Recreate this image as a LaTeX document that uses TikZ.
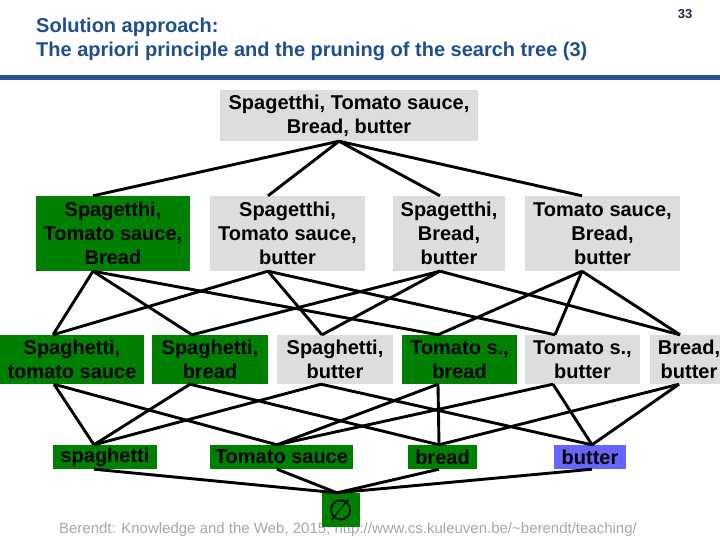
\documentclass[tikz,border=0pt]{standalone}
\usepackage{fontspec}
\setmainfont{Liberation Sans}
\newfontfamily\symfont{DejaVu Sans}
\usepackage{xcolor}
\usepackage{tikz}

\definecolor{freqgreen}{RGB}{0,128,0}
\definecolor{prunedgray}{RGB}{221,221,221}
\definecolor{infreqblue}{RGB}{102,102,255}
\definecolor{titleblue}{RGB}{31,78,140}
\definecolor{ruleblue}{RGB}{36,85,145}
\definecolor{pagenavy}{RGB}{30,45,70}
\definecolor{footgray}{RGB}{166,166,166}

\begin{document}
\begin{tikzpicture}[
  x=1pt, y=-1pt,
  itemset/.style={rectangle, inner sep=0pt, align=center, font=\fontsize{20}{24}\selectfont\bfseries},
  freq/.style={itemset, fill=freqgreen},
  pruned/.style={itemset, fill=prunedgray},
  infreq/.style={itemset, fill=infreqblue},
  lvlthree/.style={minimum height=75pt},
  lvltwo/.style={minimum height=49pt},
  lvlone/.style={minimum height=24pt},
  edge/.style={line width=2.9pt}
]
\useasboundingbox (0,0) rectangle (720,540);

% title and page number
\node[anchor=base west, align=left, inner sep=0pt, text=titleblue, font=\fontsize{20}{24}\selectfont\bfseries] (title) at (36,57) {Solution approach:\\The apriori principle and the pruning of the search tree (3)};
\node[text=pagenavy, font=\fontsize{13}{15}\selectfont\bfseries] (pagenum) at (685,14) {33};
\draw[ruleblue, line width=4.5pt] (0,77.5) -- (720,77.5);

% search tree
\node[pruned, minimum width=258pt, minimum height=51pt] (stbrbu) at (349,115.5) {Spagetthi, Tomato sauce,\\Bread, butter};

\node[freq, lvlthree, minimum width=154pt] (stbr) at (113,233.5) {Spagetthi,\\Tomato sauce,\\Bread};
\node[pruned, lvlthree, minimum width=155pt] (stbu) at (287.5,233.5) {Spagetthi,\\Tomato sauce,\\butter};
\node[pruned, lvlthree, minimum width=112pt] (sbrbu) at (449,233.5) {Spagetthi,\\Bread,\\butter};
\node[pruned, lvlthree, minimum width=155pt] (tbrbu) at (602.5,233.5) {Tomato sauce,\\Bread,\\butter};

\node[freq, lvltwo, minimum width=144pt] (st) at (72,359.5) {Spaghetti,\\tomato sauce};
\node[freq, lvltwo, minimum width=116pt] (sbr) at (210,359.5) {Spaghetti,\\bread};
\node[pruned, lvltwo, minimum width=116pt] (sbu) at (335,359.5) {Spaghetti,\\butter};
\node[freq, lvltwo, minimum width=115pt] (tbr) at (459.5,359.5) {Tomato s.,\\bread};
\node[pruned, lvltwo, minimum width=115pt] (tbu) at (582.5,359.5) {Tomato s.,\\butter};
\node[pruned, lvltwo, minimum width=78pt] (brbu) at (689,359.5) {Bread,\\butter};

\node[freq, lvlone, minimum width=104pt] (s) at (105,457) {spaghetti};
\node[freq, lvlone, minimum width=143pt] (t) at (281.5,457) {Tomato sauce};
\node[freq, lvlone, minimum width=69pt] (br) at (442.5,457) {bread};
\node[infreq, lvlone, minimum width=72pt] (bu) at (590,457) {butter};

\node[anchor=base, text=footgray, font=\fontsize{15}{18}\selectfont] (credit) at (348,533) {Berendt: Knowledge and the Web, 2015, http://www.cs.kuleuven.be/\textasciitilde berendt/teaching/};
\node[freq, minimum width=38pt, minimum height=34pt, font=\fontsize{29}{29}\selectfont\symfont] (none) at (341,510) {∅};

% edges
\draw[edge] ([xshift=-10pt]stbrbu.south) -- ([xshift=-20pt]stbr.north);
\draw[edge] ([xshift=-10pt]stbrbu.south) -- ([xshift=-19.5pt]stbu.north);
\draw[edge] ([xshift=-10pt]stbrbu.south) -- ([xshift=-9pt]sbrbu.north);
\draw[edge] ([xshift=-10pt]stbrbu.south) -- ([xshift=-20.5pt]tbrbu.north);

\draw[edge] ([xshift=-20pt]stbr.south) -- ([xshift=-19pt]st.north);
\draw[edge] ([xshift=-20pt]stbr.south) -- ([xshift=-18pt]sbr.north);
\draw[edge] ([xshift=-20pt]stbr.south) -- ([xshift=-21.5pt]tbr.north);
\draw[edge] ([xshift=-19.5pt]stbu.south) -- ([xshift=-19pt]st.north);
\draw[edge] ([xshift=-19.5pt]stbu.south) -- ([xshift=-13pt]sbu.north);
\draw[edge] ([xshift=-19.5pt]stbu.south) -- ([xshift=-27.5pt]tbu.north);
\draw[edge] ([xshift=-9pt]sbrbu.south) -- ([xshift=-18pt]sbr.north);
\draw[edge] ([xshift=-9pt]sbrbu.south) -- ([xshift=-13pt]sbu.north);
\draw[edge] ([xshift=-9pt]sbrbu.south) -- ([xshift=-9pt]brbu.north);
\draw[edge] ([xshift=-20.5pt]tbrbu.south) -- ([xshift=-21.5pt]tbr.north);
\draw[edge] ([xshift=-20.5pt]tbrbu.south) -- ([xshift=-27.5pt]tbu.north);
\draw[edge] ([xshift=-20.5pt]tbrbu.south) -- ([xshift=-9pt]brbu.north);

\draw[edge] ([xshift=-18pt]st.south) -- ([xshift=-11pt]s.north);
\draw[edge] ([xshift=-18pt]st.south) -- ([xshift=-4.5pt]t.north);
\draw[edge] ([xshift=-20pt]sbr.south) -- ([xshift=-11pt]s.north);
\draw[edge] ([xshift=-20pt]sbr.south) -- ([xshift=-3.5pt]br.north);
\draw[edge] ([xshift=-14pt]sbu.south) -- ([xshift=-11pt]s.north);
\draw[edge] ([xshift=-14pt]sbu.south) -- ([xshift=2pt]bu.north);
\draw[edge] ([xshift=-21.5pt]tbr.south) -- ([xshift=-4.5pt]t.north);
\draw[edge] ([xshift=-21.5pt]tbr.south) -- ([xshift=-3.5pt]br.north);
\draw[edge] ([xshift=-29.5pt]tbu.south) -- ([xshift=-4.5pt]t.north);
\draw[edge] ([xshift=-29.5pt]tbu.south) -- ([xshift=2pt]bu.north);
\draw[edge] ([xshift=-10pt]brbu.south) -- ([xshift=-3.5pt]br.north);
\draw[edge] ([xshift=-10pt]brbu.south) -- ([xshift=2pt]bu.north);

\draw[edge] ([xshift=-11pt]s.south) -- ([xshift=-4pt]none.north);
\draw[edge] ([xshift=-4.5pt]t.south) -- ([xshift=-4pt]none.north);
\draw[edge] ([xshift=-3.5pt]br.south) -- ([xshift=-4pt]none.north);
\draw[edge] ([xshift=2pt]bu.south) -- ([xshift=-4pt]none.north);
\end{tikzpicture}
\end{document}
